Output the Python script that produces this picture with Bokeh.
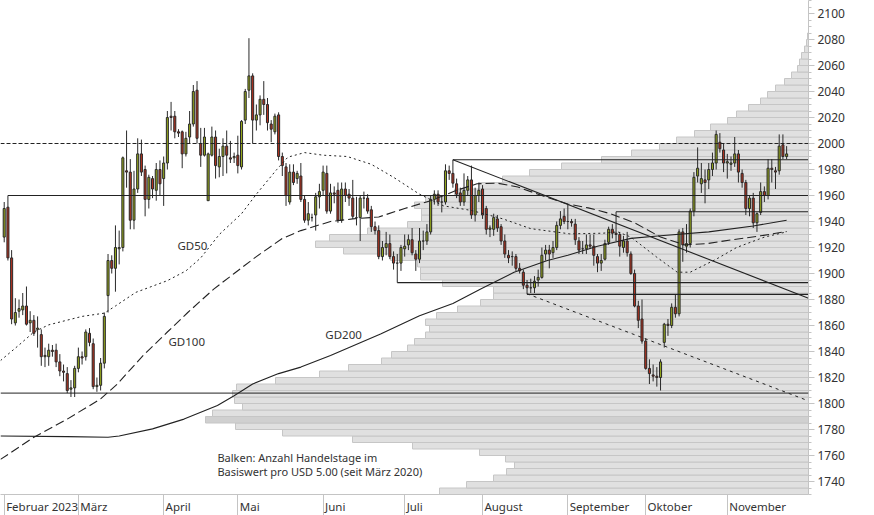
import numpy as np
import pandas as pd
from bokeh.plotting import figure
from bokeh.models import Range1d, FixedTicker, SingleIntervalTicker, Span
from bokeh.embed import file_html
from bokeh.resources import INLINE
from bokeh.core.properties import value

# ---------------- data ----------------
dates = pd.bdate_range("2023-02-01", "2023-11-23")

opens = [
    1928,1951,1912,1862,1871,1872,1875,1862,1864,1857,1853,1836,1836,1841,1841,1832,1825,1823,1811,1812,
    1827,1836,1836,1854,1846,1813,1814,1831,1883,1910,1904,1919,1920,1979,1978,1941,1965,1992,1980,1957,1973,1964,1980,
    1973,1985,2021,2021,2009,2009,1992,2005,2015,2041,2000,1991,1956,1991,2005,1982,1990,1998,1989,1989,
    1991,1982,2018,2041,2052,2018,2022,2034,2030,2015,2009,2022,1990,1982,1955,1978,1973,1975,1957,1941,1943,1945,1959,
    1964,1977,1948,1962,1964,1941,1965,1961,1958,1943,1943,1958,1958,1949,1936,1933,1913,1920,1923,1913,1908,1908,
    1919,1922,1926,1915,1911,1925,1925,1932,1957,1961,1955,1955,1979,1977,1969,1962,1955,1964,1972,1945,1960,
    1965,1950,1934,1934,1942,1936,1925,1914,1913,1913,1904,1901,1891,1889,1889,1895,1897,1915,1918,1916,1920,1937,1944,
    1940,1940,1938,1925,1919,1919,1922,1921,1913,1908,1911,1924,1934,1931,1930,1920,1925,1915,1900,1875,1865,
    1848,1827,1822,1821,1820,1847,1861,1860,1874,1869,1932,1921,1923,1948,1975,1969,1972,1972,1980,1985,2001,1995,
    1985,1984,1985,1992,1977,1970,1950,1958,1939,1947,1963,1960,1981,1979,1979,1999,1990,
]
highs = [
    1955,1960,1918,1881,1880,1885,1890,1871,1868,1867,1857,1843,1846,1845,1846,1838,1830,1828,1818,1829,
    1843,1840,1857,1858,1850,1820,1835,1870,1915,1914,1937,1933,1990,2010,1988,1979,2004,2003,1983,1976,1975,1985,1987,
    1990,2025,2032,2025,2011,2010,2009,2025,2045,2048,2012,2012,1993,2013,2010,1996,2004,2010,2002,1993,
    2006,2018,2042,2081,2054,2030,2037,2048,2035,2018,2023,2024,1993,1985,1984,1984,1979,1985,1960,1955,1946,1962,1969,
    1983,1983,1969,1967,1970,1970,1970,1965,1972,1959,1960,1963,1961,1952,1940,1937,1925,1932,1930,1917,1915,1922,
    1930,1930,1935,1918,1935,1933,1938,1960,1964,1964,1960,1984,1983,1987.5,1973,1966,1977,1975,1983,1966,1970,
    1968,1952,1937,1946,1945,1938,1930,1918,1917,1915,1908,1903,1895,1896,1898,1903,1920,1922,1922,1925,1940,1948,1950,
    1953,1942,1942,1928,1925,1930,1930,1930,1915,1915,1926,1936,1938,1947.5,1932,1929,1932,1917,1903,1879,1880,
    1850,1834,1830,1828,1834,1862,1865,1877,1884,1934,1935,1938,1950,1978,1997,1985,1980,1985,1993,2010,2008,2000,
    1992,1990,2005,1995,1980,1972,1960,1962,1947,1970,1967,1988,1988,1982,2007,2007,1998,
]
lows = [
    1924,1910,1861,1860,1866,1868,1860,1855,1852,1843,1829,1828,1829,1836,1828,1821,1817,1808,1805,1805,
    1824,1830,1833,1844,1811,1809,1810,1827,1870,1900,1886,1907,1917,1966,1934,1934,1962,1975,1944,1950,1958,1956,1960,
    1952,1980,2010,2004,2005,1981,1990,2000,2013,2000,1982,1990,1956,1990,1973,1974,1975,1977,1985,1985,
    1977,1980,2015,2035,2000,2010,2014,2022,2010,2001,2007,1987,1975,1952,1953,1968,1969,1955,1939,1937,1940,1933,1950,
    1960,1946,1946,1954,1939,1939,1955,1952,1942,1937,1925,1950,1946,1932,1930,1911,1910,1914,1911,1903,1893,1902,
    1913,1918,1914,1902,1908,1918,1922,1930,1953,1952,1947,1953,1972,1966,1958,1952,1952,1960,1942,1940,1955,
    1942,1930,1928,1929,1932,1922,1912,1908,1906,1902,1900,1888,1884,1885,1885,1890,1896,1910,1904,1912,1918,1934,1938,
    1934,1936,1922,1915,1915,1915,1919,1906,1901,1902,1910,1922,1927,1925,1913,1916,1913,1899,1874,1858,1846,
    1826,1815,1817,1813,1810,1843,1852,1858,1866,1867,1909,1916,1920,1944,1970,1962,1954,1965,1975,1980,1993,1978,
    1973,1979,1982,1970,1966,1945,1944,1935,1932,1945,1955,1957,1970,1965,1976,1988,1988,
]
closes = [
    1950,1912,1865,1870,1873,1875,1861,1864,1854,1858,1836,1837,1841,1840,1832,1825,1824,1810,1812,1827,
    1836,1835,1855,1847,1813,1814,1831,1867,1910,1904,1920,1920,1989,1978,1941,1965,1992,1978,1957,1974,1965,1980,1969,
    1985,2020,2020,2009,2008,1992,2004,2015,2040,2004,1991,2005,1992,2005,1983,1990,1998,1991,1988,1990,
    1983,2017,2040,2052,2018,2022,2034,2030,2016,2011,2021,1990,1983,1960,1978,1970,1977,1957,1941,1946,1943,1959,1963,
    1978,1948,1962,1961,1941,1965,1960,1958,1944,1943,1958,1958,1948,1936,1933,1913,1920,1923,1913,1908,1908,1920,
    1921,1926,1916,1911,1925,1925,1932,1957,1961,1955,1955,1979,1977,1969.5,1961,1955,1964,1972,1945,1960,1964,
    1945,1934,1935,1943,1935,1925,1915,1912,1913,1904,1902,1891,1889,1889,1894,1897,1914,1918,1915,1920,1937,1942,1940,
    1940,1939,1926,1918,1919,1922,1921,1914,1908,1910,1923,1934,1931,1930,1921,1925,1916,1900,1875,1864,1848,
    1827,1823,1821,1820,1832,1861,1860,1874,1869,1932,1922,1923,1948,1974,1981,1973,1970,1980,1985,2007,1996,1985,
    1986,1985,1992,1978,1970,1950,1958,1939,1946,1963,1960,1981,1980,1978,1998,1990,1992,
]

# moving averages (trading-day index, value)
gd50_idx = [-1, 4, 8, 12, 21, 27, 30, 35.5, 44, 49, 53, 58, 64, 68, 73.5, 76.5, 81, 86, 92.5, 99, 105, 112,
            118.5, 126, 134.5, 142, 152.5, 161.5, 165.5, 169, 176, 181.5, 185, 192, 197.5, 205, 211]
gd50_val = [1833, 1845, 1855, 1860.5, 1867, 1869.5, 1875, 1885.5, 1894.5, 1902, 1912, 1930, 1946, 1961, 1980,
            1989.5, 1993, 1991, 1990, 1984, 1974, 1961, 1952, 1948.5, 1942, 1934.5, 1930.5, 1931, 1932, 1928,
            1912.5, 1901, 1901, 1911, 1920, 1928, 1932]
gd100_idx = [-1, 8, 17, 26, 30.5, 37.5, 44, 49.5, 56.5, 62, 68, 75, 80, 88, 94, 101, 108, 115, 122, 127.5,
             133, 138.5, 146, 152, 157.5, 163.5, 170, 177, 183.5, 189.5, 196.5, 204, 211]
gd100_val = [1757, 1774, 1788, 1803.5, 1815, 1837, 1855, 1870, 1888, 1900, 1913, 1927, 1933, 1940, 1942,
             1943.5, 1950, 1956, 1964, 1969, 1969.5, 1966.5, 1959, 1953.5, 1950.5, 1946, 1939, 1928, 1922,
             1923, 1926, 1929, 1932.3]
gd200_idx = [-1, 17, 28, 31, 40, 48.5, 57.5, 62, 67, 74, 80, 88, 101.5, 112, 121, 128.5, 137.5, 146.5, 152,
             160, 169, 177, 190, 202, 211]
gd200_val = [1775, 1774.5, 1774, 1775, 1780.5, 1788, 1798.5, 1806, 1815, 1823, 1828, 1837, 1853.5, 1867.5,
             1877, 1888, 1901, 1910, 1914, 1921, 1927, 1929, 1932, 1936.5, 1941]

# horizontal marks: level and the trading day they start from
level_vals = [1960, 1987.5, 1947.5, 1893, 1884]
level_from = [1, 121, 165, 106, 141]
full_levels_dotted = [2000]
full_levels_solid = [1808]
trend_idx = [121, 216.9]
trend_val = [1987.5, 1881]
trend2_idx = [141, 216.9]
trend2_val = [1884.4, 1802]

# volume profile: trading days per USD 5.00 bucket (bucket lower bound)
prof_low = list(range(1730, 2085, 5))
prof_days = [73.8, 68.4, 63.0, 60.4, 58.8, 60.6, 65.8, 79.2, 91.2, 105.2, 114.6, 120.6, 119.2, 113.2,
             114.8, 115.2, 114.4, 106.6, 97.8, 92.0, 85.4, 83.4, 80.2, 78.8, 76.6, 75.8, 76.6, 74.4,
             70.2, 65.6, 63.0, 63.0, 73.2, 77.6, 77.6, 78.2, 83.6, 93.0, 98.6, 95.8, 88.2, 80.2, 77.4,
             77.4, 78.8, 76.6, 70.8, 65.8, 61.2, 55.8, 49.4, 41.4, 35.4, 29.8, 26.4, 22.8, 19.6, 16.2,
             14.4, 12.0, 9.6, 8.2, 6.6, 4.8, 3.4, 2.2, 1.8, 1.4, 0.8, 0.4, 0.2]

month_names = ["Februar 2023", "März", "April", "Mai", "Juni", "Juli", "August",
               "September", "Oktober", "November"]

# ---------------- figure ----------------
X_START, X_END = -1.0, 216.9
Y_START, Y_END = 1730.0, 2110.0
FRAME_W, FRAME_H = 808, 494
FONT = "Noto Sans"
INK = "#333333"
AXIS_GRAY = "#c4c4c4"

p = figure(frame_width=FRAME_W, frame_height=FRAME_H,
           x_range=Range1d(X_START, X_END), y_range=Range1d(Y_START, Y_END),
           y_axis_location="right", output_backend="svg", toolbar_location=None,
           min_border_left=0, min_border_top=0, min_border_right=0, min_border_bottom=20,
           background_fill_color="white", border_fill_color="white")
p.outline_line_color = None
p.grid.visible = False
p.extra_x_ranges = {"vol": Range1d(start=161.6, end=0)}

# volume profile bars
pmax = max(prof_days)
fills = ["#d0d0d0" if d == pmax else "#e0e0e0" for d in prof_days]
p.hbar(y=[v + 2.5 for v in prof_low], height=5, left=prof_days, right=0, x_range_name="vol",
       fill_color=fills, line_color="#c6c6c6", line_width=1)

# candles
x = np.arange(len(dates))
o = np.array(opens, float); h = np.array(highs, float)
l = np.array(lows, float); c = np.array(closes, float)
up = c >= o
colors = np.where(up, "#95a71d", "#b3321f")
p.segment(x0=x, y0=l, x1=x, y1=h, line_color="#2a2a2a", line_width=1)
p.vbar(x=x, width=0.55, top=np.maximum(o, c), bottom=np.minimum(o, c),
       fill_color=list(colors), line_color="#2a2a2a", line_width=1)

# level lines
for lv in full_levels_dotted:
    p.add_layout(Span(location=lv, dimension="width", line_color="#222222",
                      line_width=1, line_dash="4 2"))
for lv in full_levels_solid:
    p.add_layout(Span(location=lv, dimension="width", line_color="#222222", line_width=1))
p.segment(x0=level_from, y0=level_vals, x1=[X_END] * len(level_vals), y1=level_vals,
          line_color="#222222", line_width=1.2)
p.line(trend_idx, trend_val, line_color="#222222", line_width=1.1)
p.line(trend2_idx, trend2_val, line_color="#222222", line_width=1, line_dash="3 4")

# moving averages
p.line(gd200_idx, gd200_val, line_color="#222222", line_width=1.1)
p.line(gd100_idx, gd100_val, line_color="#222222", line_width=1.1, line_dash="9 4")
p.line(gd50_idx, gd50_val, line_color="#222222", line_width=1, line_dash="2 3")

# labels
p.text(x=[46.7, 44.3, 86.6], y=[1927, 1853.8, 1858.5], text=["GD50", "GD100", "GD200"],
       text_font=value(FONT), text_font_size=value("11.5px"), text_color=INK,
       text_baseline="top", text_align="left")
p.text(x=[57.5, 57.5], y=[1764.6, 1753.8],
       text=["Balken: Anzahl Handelstage im", "Basiswert pro USD 5.00 (seit März 2020)"],
       text_font=value(FONT), text_font_size=value("11px"), text_color=INK,
       text_baseline="top", text_align="left")

# y axis (right)
yax = p.yaxis[0]
yax.ticker = SingleIntervalTicker(interval=20, num_minor_ticks=4)
yax.axis_line_color = AXIS_GRAY
yax.major_tick_line_color = AXIS_GRAY
yax.minor_tick_line_color = AXIS_GRAY
yax.major_tick_in = 0
yax.major_tick_out = 6
yax.minor_tick_in = 0
yax.minor_tick_out = 3
yax.major_label_standoff = 3
yax.major_label_text_font = FONT
yax.major_label_text_font_size = "12px"
yax.major_label_text_color = INK

# x axis: month separators as minor ticks, labels just right of them
month_idx = [i for i in range(len(dates)) if i == 0 or dates[i].month != dates[i - 1].month]
CW = {" ": .26, "0": .572, "2": .572, "3": .572, "A": .633, "F": .532, "J": .27, "M": .907, "N": .764,
      "O": .789, "S": .549, "a": .556, "b": .613, "e": .561, "g": .613, "i": .258, "k": .529, "l": .258,
      "m": .93, "n": .613, "o": .601, "p": .613, "r": .408, "s": .477, "t": .353, "u": .613, "v": .5,
      "z": .469, "ä": .556}
px_per_day = FRAME_W / (X_END - X_START)
centers = []
for mi, name in zip(month_idx, month_names):
    w = sum(CW.get(ch, .56) for ch in name) * 11.5
    centers.append(round(mi + (2 + w / 2) / px_per_day, 4))
xax = p.xaxis[0]
xax.ticker = FixedTicker(ticks=centers, minor_ticks=month_idx)
xax.major_label_overrides = {cc: nm for cc, nm in zip(centers, month_names)}
xax.axis_line_color = AXIS_GRAY
xax.major_tick_line_color = None
xax.major_tick_in = 0
xax.major_tick_out = 0
xax.minor_tick_line_color = AXIS_GRAY
xax.minor_tick_in = 0
xax.minor_tick_out = 21
xax.major_label_standoff = -17
xax.major_label_text_font = FONT
xax.major_label_text_font_size = "11.5px"
xax.major_label_text_color = INK

open("out.html", "w").write(file_html(p, INLINE, title="Gold"))
